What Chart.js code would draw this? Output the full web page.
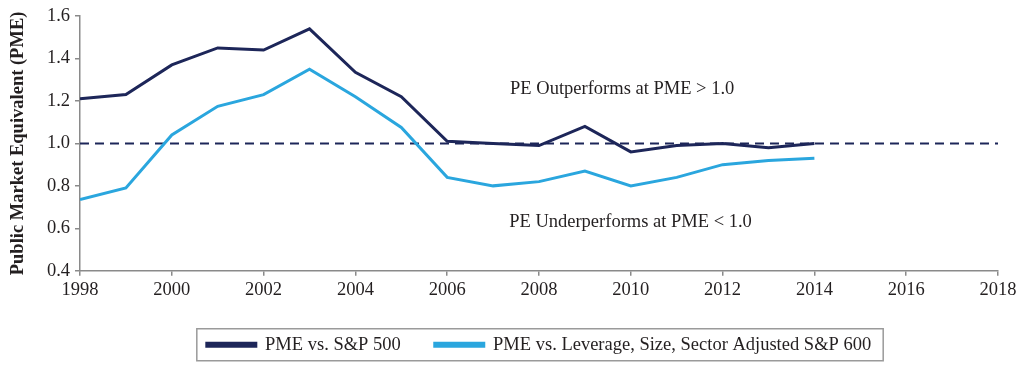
<!DOCTYPE html>
<html>
<head>
<meta charset="utf-8">
<script src="https://cdn.jsdelivr.net/npm/chart.js@4/dist/chart.umd.min.js"></script>
<style>
  html, body { margin: 0; padding: 0; background: #fff; }
  #wrap { width: 1024px; height: 371px; }
</style>
</head>
<body>
<div id="wrap"><canvas id="pmeChart" width="1024" height="371"></canvas></div>
<script>
'use strict';

// Data
const years = [1998, 1999, 2000, 2001, 2002, 2003, 2004, 2005, 2006, 2007, 2008, 2009, 2010, 2011, 2012, 2013, 2014];
const pmeSP500 = [1.21, 1.23, 1.37, 1.45, 1.44, 1.54, 1.335, 1.22, 1.01, 1.0, 0.99, 1.08, 0.96, 0.99, 1.0, 0.98, 1.0];
const pmeSP600Adj = [0.735, 0.79, 1.04, 1.175, 1.23, 1.35, 1.22, 1.075, 0.84, 0.80, 0.82, 0.87, 0.80, 0.84, 0.90, 0.92, 0.93];
const seriesLabels = ['PME vs. S&P 500', 'PME vs. Leverage, Size, Sector Adjusted S&P 600'];
const xRange = [1998, 2018];
const yRange = [0.4, 1.6];
const breakEven = 1.0;
const notes = [
    { text: 'PE Outperforms at PME > 1.0', x: 2007.37, y: 1.258 },
    { text: 'PE Underperforms at PME < 1.0', x: 2007.35, y: 0.63 }
];

const DARK = '#1d2659';
const LIGHT = '#2aa6de';
const TEXT = '#231f20';
const AXIS = '#8a8a8a';
const SERIF = '"Liberation Serif", "Times New Roman", serif';

function toPoints(values) {
    return values.map((v, i) => ({ x: years[i], y: v }));
}

// Annotation texts placed via the chart scales
const notesPlugin = {
    id: 'notes',
    afterDatasetsDraw(chart) {
        const { ctx, scales: { x, y } } = chart;
        ctx.save();
        ctx.font = '18.5px ' + SERIF;
        ctx.fillStyle = TEXT;
        ctx.textAlign = 'left';
        ctx.textBaseline = 'middle';
        notes.forEach(n => {
            ctx.fillText(n.text, x.getPixelForValue(n.x), y.getPixelForValue(n.y));
        });
        ctx.restore();
    }
};

// Grey frame around the legend items
const legendBoxPlugin = {
    id: 'legendBox',
    afterDraw(chart) {
        const boxes = chart.legend && chart.legend.legendHitBoxes;
        if (!boxes || !boxes.length) return;
        const first = boxes[0];
        const last = boxes[boxes.length - 1];
        const midY = first.top + first.height / 2;
        const ctx = chart.ctx;
        ctx.save();
        ctx.strokeStyle = '#9a9a9a';
        ctx.lineWidth = 1.5;
        ctx.strokeRect(first.left - 10, midY - 16, last.left + last.width + 12 - (first.left - 10), 32);
        ctx.restore();
    }
};

new Chart(document.getElementById('pmeChart'), {
    type: 'line',
    data: {
        datasets: [
            {
                label: seriesLabels[0],
                data: toPoints(pmeSP500),
                borderColor: DARK,
                backgroundColor: DARK,
                borderWidth: 3,
                pointRadius: 0,
                tension: 0
            },
            {
                label: seriesLabels[1],
                data: toPoints(pmeSP600Adj),
                borderColor: LIGHT,
                backgroundColor: LIGHT,
                borderWidth: 3,
                pointRadius: 0,
                tension: 0
            },
            {
                label: 'PME = 1.0',
                data: [{ x: xRange[0], y: breakEven }, { x: xRange[1], y: breakEven }],
                borderColor: DARK,
                borderWidth: 2,
                borderDash: [9, 6],
                pointRadius: 0
            }
        ]
    },
    options: {
        responsive: false,
        animation: false,
        layout: {
            padding: { top: 15, right: 26, bottom: 7, left: 0 }
        },
        plugins: {
            tooltip: { enabled: false },
            legend: {
                position: 'bottom',
                fullSize: false,
                labels: {
                    filter: item => item.datasetIndex < 2,
                    boxWidth: 49,
                    boxHeight: 3,
                    padding: 34,
                    color: TEXT,
                    font: { family: SERIF, size: 18.5 }
                }
            }
        },
        scales: {
            x: {
                type: 'linear',
                min: xRange[0],
                max: xRange[1],
                afterFit: scale => { scale.height = 30.75; },
                border: { color: AXIS, width: 1.5 },
                grid: { drawOnChartArea: false, tickLength: 5, color: AXIS, lineWidth: 1.5 },
                ticks: {
                    stepSize: 2,
                    padding: 3,
                    maxRotation: 0,
                    color: TEXT,
                    font: { family: SERIF, size: 18.5 },
                    callback: v => String(v)
                }
            },
            y: {
                min: yRange[0],
                max: yRange[1],
                afterFit: scale => { scale.width = 80; },
                border: { color: AXIS, width: 1.5 },
                grid: { drawOnChartArea: false, tickLength: 5, color: AXIS, lineWidth: 1.5 },
                title: {
                    display: true,
                    text: 'Public Market Equivalent (PME)',
                    color: TEXT,
                    font: { family: SERIF, size: 18.5, weight: 'bold' },
                    padding: { top: 7, bottom: 0 }
                },
                ticks: {
                    stepSize: 0.2,
                    padding: 5,
                    color: TEXT,
                    font: { family: SERIF, size: 18.5 },
                    callback: v => v.toFixed(1)
                }
            }
        }
    },
    plugins: [notesPlugin, legendBoxPlugin]
});
</script>
</body>
</html>
